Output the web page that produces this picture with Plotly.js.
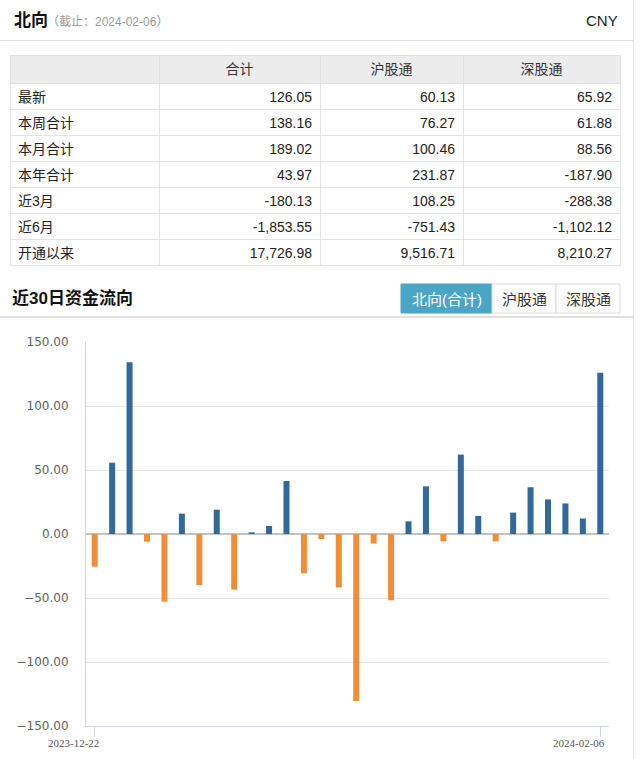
<!DOCTYPE html>
<html>
<head>
<meta charset="utf-8">
<script src="https://cdn.plot.ly/plotly-3.0.1.min.js"></script>
<style>
  html, body { margin: 0; padding: 0; background: #fff; }
  #chart { width: 640px; height: 759px; }
</style>
</head>
<body>
<div id="chart"></div>
<script>
// ---- table data ----
const rowLabels = ['最新', '本周合计', '本月合计', '本年合计', '近3月', '近6月', '开通以来'];
const colHeaders = ['', '合计', '沪股通', '深股通'];
const totalVals = [126.05, 138.16, 189.02, 43.97, -180.13, -1853.55, 17726.98];
const shVals = [60.13, 76.27, 100.46, 231.87, 108.25, -751.43, 9516.71];
const szVals = [65.92, 61.88, 88.56, -187.90, -288.38, -1102.12, 8210.27];

// ---- 30-day flow data ----
const dates = ['2023-12-22', '2023-12-27', '2023-12-28', '2023-12-29', '2024-01-02', '2024-01-03',
  '2024-01-04', '2024-01-05', '2024-01-08', '2024-01-09', '2024-01-10', '2024-01-11',
  '2024-01-12', '2024-01-15', '2024-01-16', '2024-01-17', '2024-01-18', '2024-01-19',
  '2024-01-22', '2024-01-23', '2024-01-24', '2024-01-25', '2024-01-26', '2024-01-29',
  '2024-01-30', '2024-01-31', '2024-02-01', '2024-02-02', '2024-02-05', '2024-02-06'];
const flows = [-25.5, 55.7, 134.1, -6.0, -52.9, 15.9, -39.8, 19.0, -43.5, 1.3,
  6.3, 41.4, -30.7, -3.9, -41.7, -130.5, -7.5, -51.8, 9.9, 37.2,
  -5.7, 62.0, 14.1, -5.7, 16.7, 36.5, 27.0, 23.86, 12.11, 126.05];
const yTicks = [-150, -100, -50, 0, 50, 100, 150];
const tabs = ['北向(合计)', '沪股通', '深股通'];

const W = 640, H = 759;
const px = x => x / W;
const py = y => 1 - y / H;
const fmt = v => v.toLocaleString('en-US', {minimumFractionDigits: 2, maximumFractionDigits: 2});

const CJK = 'Liberation Sans, Noto Sans CJK SC, sans-serif';
const BLUE = '#30699a', ORANGE = '#ef8e38';

const tableTrace = {
  type: 'table',
  domain: {x: [px(10), px(620)], y: [py(266), py(55)]},
  columnwidth: [149, 161, 143, 157],
  header: {
    values: colHeaders,
    fill: {color: '#ececec'},
    align: 'center',
    height: 28,
    line: {color: '#e0e0e0', width: 1},
    font: {family: CJK, size: 14, color: '#333'}
  },
  cells: {
    values: [rowLabels, totalVals.map(fmt), shVals.map(fmt), szVals.map(fmt)],
    fill: {color: '#ffffff'},
    align: ['left', 'right', 'right', 'right'],
    height: 26,
    line: {color: '#e4e4e4', width: 1},
    font: {family: CJK, size: 14, color: '#222'}
  }
};

const barTrace = {
  type: 'bar',
  x: dates,
  y: flows,
  xaxis: 'x', yaxis: 'y',
  marker: {color: flows.map(v => v >= 0 ? BLUE : ORANGE), line: {width: 0}},
  hoverinfo: 'skip'
};

const annotations = [
  {text: '北向', x: px(12), y: py(21), font: {family: CJK, size: 17, color: '#111', weight: 700}},
  {text: '（截止：2024-02-06）', x: px(45), y: py(22), font: {family: CJK, size: 12, color: '#999'}},
  {text: 'CNY', x: px(620), y: py(21), xanchor: 'right', font: {family: CJK, size: 15, color: '#222'}},
  {text: '近30日资金流向', x: px(10), y: py(298), font: {family: CJK, size: 17, color: '#111', weight: 700}},
  {text: dates[0], x: dates[0], xref: 'x', xanchor: 'center', xshift: -21, y: py(743),
    font: {family: 'Liberation Serif, serif', size: 11, color: '#555'}},
  {text: dates[dates.length - 1], x: dates[dates.length - 1], xref: 'x', xanchor: 'center', xshift: -21, y: py(743),
    font: {family: 'Liberation Serif, serif', size: 11, color: '#555'}}
].map(a => Object.assign({xref: 'paper', yref: 'paper', xanchor: 'left', yanchor: 'middle', showarrow: false}, a));

const btnX = [401, 492, 556, 620];
const shapes = [
  {type: 'line', x0: 0, x1: px(633), y0: py(40.5), y1: py(40.5), line: {color: '#dcdcdc', width: 1}},
  {type: 'line', x0: 0, x1: px(633), y0: py(317), y1: py(317), line: {color: '#d6d6d6', width: 1.5}},
  {type: 'line', x0: px(633.5), x1: px(633.5), y0: 0, y1: 1, line: {color: '#e8e8e8', width: 1}}
];
tabs.forEach((t, i) => {
  const active = i === 0;
  shapes.push({type: 'rect', xref: 'paper', yref: 'paper',
    x0: px(btnX[i]), x1: px(btnX[i + 1]), y0: py(313), y1: py(284),
    fillcolor: active ? '#4aa5c6' : '#ffffff', line: {color: active ? '#4aa5c6' : '#dcdcdc', width: 1}});
  annotations.push({xref: 'paper', yref: 'paper', showarrow: false, text: t,
    x: px((btnX[i] + btnX[i + 1]) / 2), y: py(299), xanchor: 'center', yanchor: 'middle',
    font: {family: CJK, size: 15, color: active ? '#ffffff' : '#333'}});
});
shapes.forEach(s => { s.xref = s.xref || 'paper'; s.yref = s.yref || 'paper'; });

const layout = {
  width: W, height: H,
  margin: {l: 0, r: 0, t: 0, b: 0, pad: 0},
  paper_bgcolor: '#ffffff', plot_bgcolor: '#ffffff',
  showlegend: false,
  bargap: 0.655,
  xaxis: {
    domain: [px(86), px(609)],
    type: 'category',
    range: [-0.5, dates.length - 0.5],
    showgrid: false, zeroline: false,
    showline: true, linecolor: '#ccd6eb', linewidth: 1,
    ticks: 'outside', ticklen: 10, tickcolor: '#ccd6eb', tickwidth: 1,
    tickvals: [dates[0], dates[dates.length - 1]],
    showticklabels: false,
    fixedrange: true
  },
  yaxis: {
    domain: [py(726), py(342)],
    range: [-150, 150],
    tickvals: yTicks,
    tickformat: '.2f',
    showgrid: true, gridcolor: '#e6e6e6', gridwidth: 1,
    zeroline: true, zerolinecolor: '#c2c2c2', zerolinewidth: 2,
    showline: true, linecolor: '#ccd6eb', linewidth: 1,
    ticks: '', ticklabelstandoff: 14,
    tickfont: {family: 'DejaVu Sans, sans-serif', size: 12, color: '#606060'},
    fixedrange: true
  },
  annotations: annotations,
  shapes: shapes,
  font: {family: CJK}
};

Plotly.newPlot('chart', [tableTrace, barTrace], layout, {displayModeBar: false, staticPlot: true});
</script>
</body>
</html>
